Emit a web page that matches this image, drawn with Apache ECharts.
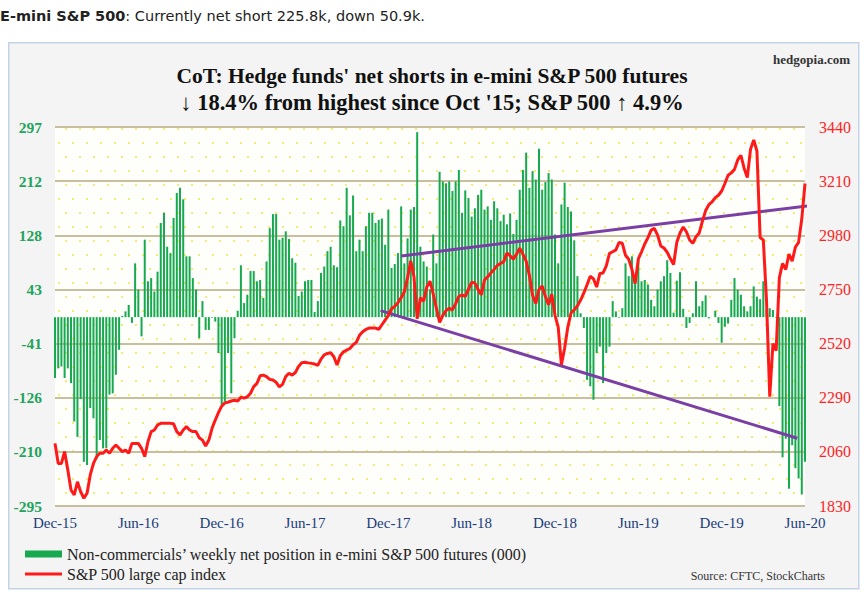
<!DOCTYPE html>
<html>
<head>
<meta charset="utf-8">
<title>E-mini S&amp;P 500 CoT</title>
<script src="https://cdn.jsdelivr.net/npm/echarts@6/dist/echarts.min.js"></script>
<style>
html, body { margin: 0; padding: 0; background: #fff; }
#chart { width: 864px; height: 594px; }
</style>
</head>
<body>
<div id="chart"></div>
<script>
// non-commercials' weekly net position (000), Dec-15 .. Jun-20
var netPosition = [
  -95, -80, -77, -95, -80, -103, -163, -187, -128, -226,
  -231, -142, -158, -221, -192, -205, -205, -121, -119, -90,
  -51, 2, 9, 19, -9, 84, 43, -30, 121, 56,
  61, 40, 71, 147, 163, 110, 100, 155, 194, 202,
  184, 95, 95, 61, 43, -33, 25,
  -20, -20, -1, -7, -56, -137, -132, -56, -119, -33,
  10, 81, 22, 35, 72, 72, 56, 58, 30, 87,
  139, 161, 161, 121, 124, 134, 122, 92, 85, 33,
  40, 56, 58, 58, 8, 25, 69, 79, 103, 110,
  81, 78, 151, 142, 202, 159, 190,
  103, 121, 103, 142, 163, 163, 147, 152, 154, 113,
  168, 77, 83, 100, 173, 84, 123, 168, 172, 289,
  110, 87, 79, 43, 129, 84, 227, 212, 209, 212,
  197, 212, 230, 163, 198, 186, 157, 170, 191, 199,
  168, 173, 152, 181, 170, 150, 160,
  145, 162, 130, 152, 199, 230, 257, 202, 228, 215,
  263, 199, 211, 225, 215, 129, 84, 176, 210, 172,
  165, 120, 64, 6, -17, -98, -108, -129, -56, -46,
  -103, -56, -46, 25, 9, -1, 14, 84, 64, 95,
  64, 90, 56, 58, 51, 27, 17,
  43, 56, 64, 89, 69, 7, 57, 70, 13, -17,
  -9, 6, 56, 17, 25, 34, -2, 0, 10, -9,
  -40, -15, -10, 27, 61, 43, 35, 17, 9, 17,
  48, 32, 28, 56, 12, 14, 11, -1, -139, -219,
  -190, -268, -200, -236, -252, -277, -226
];

// S&P 500 weekly close
var spx = [
  2096, 2011, 2011, 2061, 1983, 1898, 1877, 1933, 1891, 1863,
  1884, 1962, 2011, 2040, 2054, 2054, 2068, 2054, 2075, 2089,
  2075, 2061, 2068, 2054, 2096, 2096, 2096, 2075, 2040, 2103,
  2146, 2153, 2174, 2181, 2181, 2181, 2181, 2179, 2146, 2132,
  2153, 2167, 2153, 2146, 2146, 2120, 2110,
  2085, 2110, 2160, 2195, 2227, 2254, 2268, 2271, 2276, 2279,
  2276, 2292, 2288, 2294, 2309, 2337, 2351, 2383, 2386, 2380,
  2368, 2365, 2355, 2336, 2347, 2380, 2394, 2386, 2397, 2423,
  2439, 2441, 2438, 2436, 2433, 2428, 2454, 2472, 2478, 2481,
  2464, 2429, 2468, 2485, 2492, 2499, 2515, 2525,
  2555, 2570, 2580, 2586, 2586, 2586, 2580, 2600, 2620, 2640,
  2668, 2678, 2694, 2715, 2740, 2800, 2872, 2804, 2625, 2715,
  2700, 2760, 2785, 2730, 2670, 2610, 2640, 2660, 2670, 2663,
  2690, 2720, 2727, 2720, 2750, 2780, 2778, 2750, 2727, 2790,
  2804, 2820, 2835, 2852, 2860, 2868,
  2905, 2893, 2878, 2900, 2925, 2900, 2870, 2810, 2725, 2690,
  2750, 2765, 2720, 2685, 2730, 2640, 2590, 2430, 2500, 2590,
  2650, 2663, 2680, 2705, 2735, 2770, 2806, 2795, 2760, 2818,
  2820, 2850, 2903, 2910, 2918, 2950, 2946, 2895, 2878, 2835,
  2775, 2880, 2910, 2943, 2970, 3002, 3009,
  2981, 2935, 2926, 2908, 2880, 2856, 2950, 2990, 3015, 2995,
  2960, 2946, 2974, 2990, 3040, 3085, 3110, 3122, 3140, 3150,
  3168, 3200, 3235, 3245, 3260, 3300, 3320, 3265, 3225, 3345,
  3385, 3338, 2970, 2960, 2700, 2294, 2520, 2490, 2800, 2860,
  2835, 2900, 2870, 2930, 2950, 3050, 3200
];

// trend lines on the S&P 500 scale: [week index, level]
var upperTrend = [[108, 2892], [238, 3110]];
var lowerTrend = [[101.6, 2660], [231.6, 2118]];

var tickLabels = ['Dec-15', 'Jun-16', 'Dec-16', 'Jun-17', 'Dec-17', 'Jun-18', 'Dec-18', 'Jun-19', 'Dec-19', 'Jun-20'];
var leftRange = [-295, 297];
var rightRange = [1830, 3440];

var weeks = [];
var d0 = Date.UTC(2015, 11, 8);
for (var k = 0; k < netPosition.length; k++) {
  weeks.push(new Date(d0 + k * 7 * 864e5).toISOString().slice(0, 10));
}

// yellow dot texture of the plot area
var dots = document.createElement('canvas');
dots.width = 14;
dots.height = 28;
var g = dots.getContext('2d');
g.fillStyle = '#fefefb';
g.fillRect(0, 0, 14, 28);
g.fillStyle = '#eee23a';
g.beginPath(); g.arc(3, 3, 0.9, 0, Math.PI * 2); g.fill();
g.beginPath(); g.arc(10, 17, 0.9, 0, Math.PI * 2); g.fill();

var serif = 'Liberation Serif';
var barName = 'Non-commercials\u2019 weekly net position in e-mini S&P 500 futures (000)';
var lineName = 'S&P 500 large cap index';

var chart = echarts.init(document.getElementById('chart'), null, { renderer: 'svg' });
var option = {
  animation: false,
  backgroundColor: '#fff',
  graphic: [{
    type: 'rect',
    z: -100,
    left: 8,
    top: 42,
    shape: { width: 850, height: 546 },
    style: { fill: '#f4f4f4', stroke: '#c3d4e8', lineWidth: 1.5 }
  }],
  title: [{
    text: '{b|E-mini S&P 500}: Currently net short 225.8k, down 50.9k.',
    left: 0,
    top: 8,
    padding: 0,
    textStyle: {
      fontFamily: 'DejaVu Sans', fontSize: 14.5, fontWeight: 'normal', color: '#222',
      rich: { b: { fontFamily: 'DejaVu Sans', fontSize: 14.5, fontWeight: 'bold', color: '#222' } }
    }
  }, {
    text: 'hedgopia.com',
    right: 9,
    top: 48,
    textStyle: { fontFamily: serif, fontSize: 13, fontWeight: 'bold', color: '#333' }
  }, {
    text: 'CoT: Hedge funds\' net shorts in e-mini S&P 500 futures',
    left: 'center',
    top: 60,
    textStyle: { fontFamily: serif, fontSize: 21.5, fontWeight: 'bold', color: '#111' }
  }, {
    text: '\u2193 18.4% from highest since Oct \'15; S&P 500 \u2191 4.9%',
    left: 'center',
    top: 86,
    textStyle: { fontFamily: serif, fontSize: 22.5, fontWeight: 'bold', color: '#111' }
  }, {
    text: 'Source: CFTC, StockCharts',
    right: 34,
    top: 565,
    textStyle: { fontFamily: serif, fontSize: 12, fontWeight: 'normal', color: '#333' }
  }],
  legend: [{
    data: [barName],
    left: 25,
    top: 546,
    padding: 0,
    itemWidth: 37,
    itemHeight: 7,
    icon: 'rect',
    textStyle: { fontFamily: serif, fontSize: 16, color: '#222' }
  }, {
    data: [lineName],
    left: 25,
    top: 566,
    padding: 0,
    itemWidth: 37,
    itemHeight: 3,
    icon: 'rect',
    textStyle: { fontFamily: serif, fontSize: 16, color: '#222' }
  }],
  grid: {
    left: 55,
    right: 59,
    top: 127,
    bottom: 88,
    show: true,
    borderWidth: 0,
    backgroundColor: { image: dots, repeat: 'repeat' }
  },
  xAxis: [{
    type: 'category',
    data: weeks,
    boundaryGap: false,
    axisLine: { show: false },
    axisTick: { show: false },
    axisLabel: {
      interval: 25,
      margin: 9,
      color: '#203d7a',
      fontFamily: serif,
      fontSize: 15,
      formatter: function (v, idx) { return tickLabels[idx / 26] || ''; }
    }
  }, {
    type: 'value',
    min: 0,
    max: weeks.length - 1,
    show: false
  }],
  yAxis: [{
    type: 'value',
    min: leftRange[0],
    max: leftRange[1],
    interval: (leftRange[1] - leftRange[0]) / 7,
    axisLine: { show: false },
    axisTick: { show: false },
    splitLine: { lineStyle: { color: '#c8bf9f', width: 2 } },
    axisLabel: {
      margin: 13,
      color: '#23a35c',
      fontFamily: serif,
      fontWeight: 'bold',
      fontSize: 15.5,
      formatter: function (v) { return String(Math.round(v)); }
    }
  }, {
    type: 'value',
    min: rightRange[0],
    max: rightRange[1],
    interval: 230,
    position: 'right',
    axisLine: { show: false },
    axisTick: { show: false },
    splitLine: { show: false },
    axisLabel: {
      margin: 14,
      color: '#ff2424',
      fontFamily: serif,
      fontSize: 16,
      formatter: function (v) { return String(Math.round(v)); }
    }
  }],
  series: [{
    name: barName,
    type: 'bar',
    data: netPosition,
    barWidth: 2,
    itemStyle: { color: '#16a94f' }
  }, {
    name: 'upper trend',
    type: 'line',
    xAxisIndex: 1,
    yAxisIndex: 1,
    data: upperTrend,
    symbol: 'none',
    clip: false,
    lineStyle: { color: '#7a3fa5', width: 3 }
  }, {
    name: 'lower trend',
    type: 'line',
    xAxisIndex: 1,
    yAxisIndex: 1,
    data: lowerTrend,
    symbol: 'none',
    clip: false,
    lineStyle: { color: '#7a3fa5', width: 3 }
  }, {
    name: lineName,
    type: 'line',
    yAxisIndex: 1,
    data: spx,
    symbol: 'none',
    itemStyle: { color: '#ff1a1a' },
    lineStyle: { color: '#ff1a1a', width: 3 }
  }]
};
chart.setOption(option);
window.addEventListener('resize', function () { chart.resize(); });
</script>
</body>
</html>
